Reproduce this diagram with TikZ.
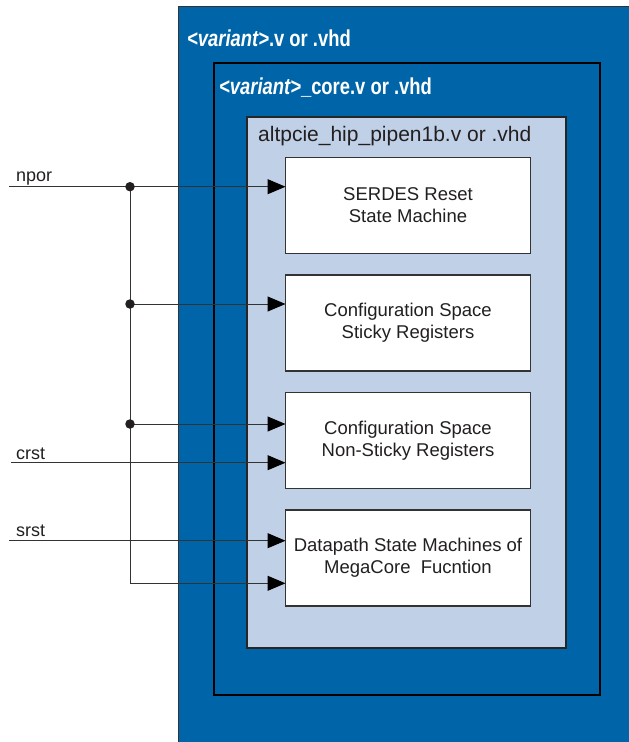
\documentclass[tikz,border=0pt]{standalone}
\usepackage{fontspec}
\setmainfont{Liberation Sans}
\newfontfamily\headfont[FakeStretch=0.8]{Liberation Sans}
\usetikzlibrary{arrows.meta}
\definecolor{altblue}{HTML}{0065A8}
\definecolor{lightblue}{HTML}{C0D0E6}
\definecolor{linegray}{HTML}{333333}
\definecolor{txt}{HTML}{231F20}
\begin{document}
\begin{tikzpicture}[x=1pt,y=-1pt,
  container/.style={anchor=north west,inner sep=0pt,outer sep=0pt},
  midbox/.style={container,fill=altblue,draw=black,line width=1.5pt},
  lightbox/.style={container,fill=lightblue,draw=black!85,line width=1.2pt},
  block/.style={container,fill=white,draw=linegray,line width=1.2pt,
    minimum width=245pt,minimum height=96pt,align=center,text=txt,
    font=\fontsize{18.5pt}{22pt}\selectfont},
  heading/.style={anchor=base west,inner sep=0pt,text=white,
    font=\headfont\bfseries\fontsize{23pt}{27pt}\selectfont},
  title/.style={anchor=base west,inner sep=0pt,text=txt,
    font=\fontsize{21pt}{25pt}\selectfont},
  sig/.style={anchor=base west,inner sep=0pt,text=txt,
    font=\fontsize{18pt}{22pt}\selectfont},
  wire/.style={draw=linegray,line width=1pt},
  arr/.style={wire,-{Triangle[length=18pt,width=15pt,color=black,fill=black]}},
  junction/.style={circle,fill=txt,inner sep=0pt,minimum size=9.5pt}]
\useasboundingbox (0,0) rectangle (629,742);
% outer container (runs off the page on the right and bottom)
\fill[altblue] (178,6) rectangle (629,742);
\draw[linegray,line width=0.8pt] (178,742) -- (178,6) -- (629,6);
\node[midbox,minimum width=386pt,minimum height=632pt] (mid) at (214,63) {};
\node[lightbox,minimum width=319pt,minimum height=531pt] (light) at (247,117) {};
% headings
\node[heading] (h1) at (187,46) {\textit{<variant>}.v or .vhd};
\node[heading] (h2) at (219,94) {\textit{<variant>}\_core.v or .vhd};
\node[title] (h3) at (258,141.7) {altpcie\_hip\_pipen1b.v or .vhd};
% blocks
\node[block] (b1) at (285.5,157.3) {SERDES Reset\\State Machine};
\node[block] (b2) at (285.5,275) {Configuration Space\\Sticky Registers};
\node[block] (b3) at (285.5,392.3) {Configuration Space\\Non-Sticky Registers};
\node[block] (b4) at (285.5,510) {Datapath State Machines of\\MegaCore\ \ Fucntion};
% signal starts and labels
\coordinate (nporS) at (9,186.7);
\coordinate (crstS) at (11,462.7);
\coordinate (srstS) at (9,540.7);
\node[sig] (nporL) at (16,181.7) {npor};
\node[sig] (crstL) at (16,459.6) {crst};
\node[sig] (srstL) at (16,536.8) {srst};
% junctions
\coordinate (j1) at (130,186.7);
\coordinate (j2) at (130,304);
\coordinate (j3) at (130,424);
\coordinate (bend) at (130,583.3);
% wires
\draw[arr] (nporS) -- (nporS -| b1.west);
\draw[wire] (j1) -- (bend);
\draw[arr] (j2) -- (j2 -| b2.west);
\draw[arr] (j3) -- (j3 -| b3.west);
\draw[arr] (crstS) -- (crstS -| b3.west);
\draw[arr] (srstS) -- (srstS -| b4.west);
\draw[arr] (bend) -- (bend -| b4.west);
% junction dots
\node[junction] (d1) at (j1) {};
\node[junction] (d2) at (j2) {};
\node[junction] (d3) at (j3) {};
\end{tikzpicture}
\end{document}
